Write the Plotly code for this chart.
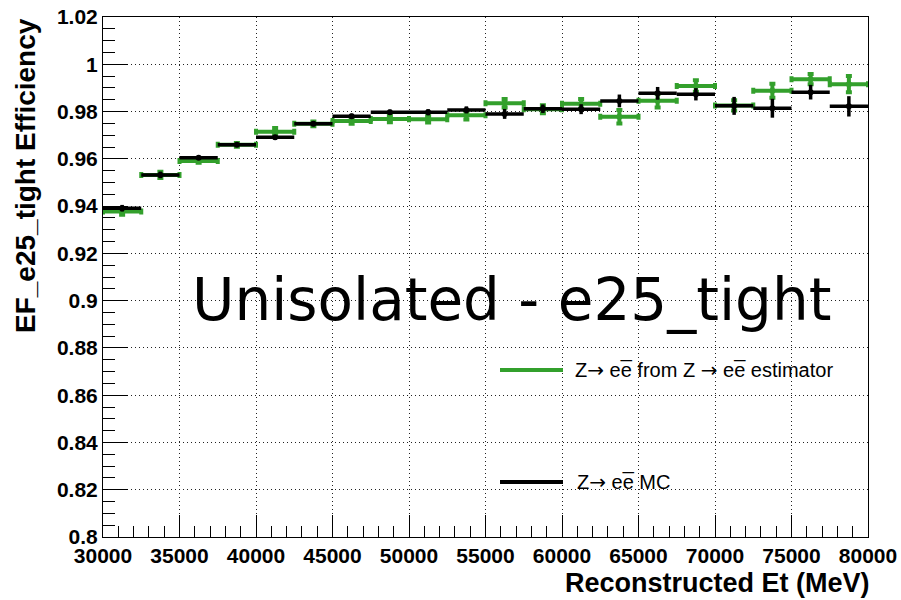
import plotly.graph_objects as go

# ---- data ----
bin_edges_lo = [30000 + 2500 * i for i in range(20)]
x_centers = [b + 1250 for b in bin_edges_lo]
x_halfwidth = [1250] * 20

eff_mc = [0.9391, 0.9532, 0.9605, 0.9659, 0.9691, 0.9748, 0.9780, 0.9797, 0.9797, 0.9807,
          0.9790, 0.9812, 0.9810, 0.9845, 0.9877, 0.9873, 0.9824, 0.9814, 0.9882, 0.9822]
err_mc = [0.0014, 0.0014, 0.0007, 0.0008, 0.0010, 0.0010, 0.0011, 0.0011, 0.0013, 0.0015,
          0.0021, 0.0018, 0.0021, 0.0027, 0.0027, 0.0026, 0.0038, 0.0040, 0.0031, 0.0043]

eff_est = [0.9377, 0.9532, 0.9591, 0.9659, 0.9715, 0.9748, 0.9760, 0.9768, 0.9767, 0.9784,
           0.9835, 0.9810, 0.9833, 0.9778, 0.9846, 0.9908, 0.9826, 0.9888, 0.9937, 0.9916]
err_est = [0.0014, 0.0013, 0.0008, 0.0008, 0.0015, 0.0010, 0.0012, 0.0013, 0.0013, 0.0018,
           0.0018, 0.0017, 0.0020, 0.0029, 0.0029, 0.0024, 0.0022, 0.0030, 0.0022, 0.0034]

y_tickvals = [0.8, 0.82, 0.84, 0.86, 0.88, 0.9, 0.92, 0.94, 0.96, 0.98, 1.0, 1.02]
y_ticktext = ["0.8", "0.82", "0.84", "0.86", "0.88", "0.9", "0.92", "0.94", "0.96", "0.98", "1", "1.02"]
x_tickvals = [30000, 35000, 40000, 45000, 50000, 55000, 60000, 65000, 70000, 75000, 80000]
x_ticktext = [str(v) for v in x_tickvals]

GREEN = "#33a02c"
BLACK = "#000000"

fig = go.Figure()

fig.add_trace(go.Scatter(
    x=x_centers, y=eff_est, mode="markers",
    marker=dict(size=0, color=GREEN),
    error_x=dict(type="data", array=x_halfwidth, color=GREEN, thickness=4, width=3),
    error_y=dict(type="data", array=err_est, color=GREEN, thickness=4, width=3),
    showlegend=False, hoverinfo="skip"))

fig.add_trace(go.Scatter(
    x=x_centers, y=eff_mc, mode="markers",
    marker=dict(size=0, color=BLACK),
    error_x=dict(type="data", array=x_halfwidth, color=BLACK, thickness=3.5, width=0),
    error_y=dict(type="data", array=err_mc, color=BLACK, thickness=3.5, width=0),
    showlegend=False, hoverinfo="skip"))

tickfont = dict(family="Liberation Sans", size=21, color="black", weight="bold")

fig.update_xaxes(
    range=[30000, 80000], tickvals=x_tickvals, ticktext=x_ticktext,
    ticks="inside", ticklen=22, tickwidth=1, tickcolor="black",
    minor=dict(dtick=1000, tick0=30000, ticks="inside", ticklen=11, tickcolor="black", showgrid=False),
    showgrid=True, gridcolor="#222222", griddash="1px,3px", gridwidth=1.3,
    showline=True, linecolor="black", linewidth=1, mirror=True,
    zeroline=False, tickfont=tickfont, automargin=False)

fig.update_yaxes(
    range=[0.8, 1.02], tickvals=y_tickvals, ticktext=y_ticktext,
    ticks="inside", ticklen=25, tickwidth=1, tickcolor="black",
    minor=dict(dtick=0.005, tick0=0.8, ticks="inside", ticklen=12, tickcolor="black", showgrid=False),
    showgrid=True, gridcolor="#222222", griddash="1px,3px", gridwidth=1.3,
    showline=True, linecolor="black", linewidth=1, mirror=True,
    zeroline=False, tickfont=tickfont, automargin=False)

L, R, T, B = 103, 33, 17, 63
W, H = 901, 600
pw, ph = W - L - R, H - T - B

def px_x(px):
    return (px - L) / pw

def px_y(py):
    return (H - B - py) / ph

ARROW = "<span style='font-family:DejaVu Sans'>\u2192</span>"
EBAR = "e\u0305"

annots = [
    dict(text="Unisolated - e25_tight", x=px_x(190), y=px_y(300), xanchor="left", yanchor="middle",
         font=dict(family="DejaVu Sans", size=58, color="black")),
    dict(text="EF_e25_tight Efficiency", x=px_x(25), y=px_y(176), xanchor="center", yanchor="middle",
         textangle=-90, font=dict(family="Liberation Sans", size=28, color="black", weight="bold")),
    dict(text="Reconstructed Et (MeV)", x=px_x(872), y=px_y(583), xanchor="right", yanchor="middle",
         font=dict(family="Liberation Sans", size=27, color="black", weight="bold")),
    dict(text=f"Z{ARROW} e{EBAR} from Z {ARROW} e{EBAR} estimator", x=px_x(573), y=px_y(370), xanchor="left",
         yanchor="middle", font=dict(family="Liberation Sans", size=20, color="black")),
    dict(text=f"Z{ARROW} e{EBAR} MC", x=px_x(575), y=px_y(482), xanchor="left",
         yanchor="middle", font=dict(family="Liberation Sans", size=20, color="black")),
]
for a in annots:
    a.update(xref="paper", yref="paper", showarrow=False)

shapes = [
    dict(type="line", xref="paper", yref="paper", x0=px_x(500), x1=px_x(563), y0=px_y(370), y1=px_y(370),
         line=dict(color=GREEN, width=4)),
    dict(type="line", xref="paper", yref="paper", x0=px_x(500), x1=px_x(563), y0=px_y(482), y1=px_y(482),
         line=dict(color=BLACK, width=4)),
]

fig.update_layout(
    width=W, height=H,
    margin=dict(l=L, r=R, t=T, b=B, autoexpand=False),
    paper_bgcolor="white", plot_bgcolor="white",
    annotations=annots, shapes=shapes,
    showlegend=False,
)

fig.write_html("out.html")
